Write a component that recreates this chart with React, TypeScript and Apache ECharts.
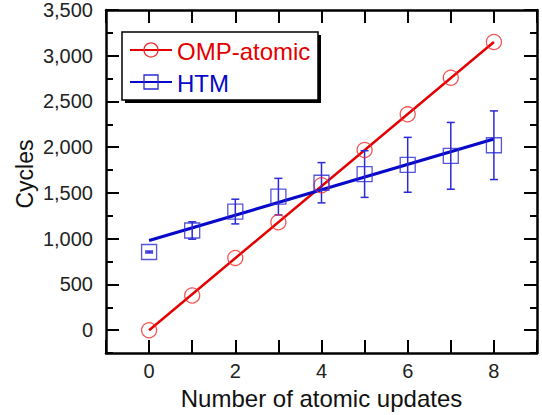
import React, { useEffect, useRef } from "react";
import * as echarts from "echarts";

const xValues = [0, 1, 2, 3, 4, 5, 6, 7, 8];
const ompAtomic = [0, 380, 790, 1180, 1585, 1970, 2360, 2760, 3150];
const htm = [855, 1090, 1297, 1460, 1612, 1707, 1808, 1906, 2022];
const htmErr = [10, 95, 135, 200, 220, 255, 300, 365, 375];
const fitX = [0, 8];
const ompFit = [0, 3150];
const htmFit = [980, 2090];
const yMajorTicks = [0, 500, 1000, 1500, 2000, 2500, 3000, 3500];
const xLabelTicks = [0, 2, 4, 6, 8];

const RED_LINE = "#e40000";
const RED_MARK = "#ee2a2a";
const BLUE_LINE = "#0808c8";
const BLUE_MARK = "#2a2ad6";
const FONT = '"Liberation Sans", Arial, Helvetica, sans-serif';

export default function App() {
  const ref = useRef<HTMLDivElement>(null);

  useEffect(() => {
    if (!ref.current) return;
    const chart = echarts.init(ref.current, null, { renderer: "svg" });

    const axisLine = { show: true, onZero: false, lineStyle: { color: "#000", width: 2.5 } };
    const noLine = { show: false, onZero: false };
    const majorTick = { show: true, inside: true, length: 13, lineStyle: { color: "#000", width: 2 } };
    const minorTickStyle = { show: true, inside: true, length: 7, lineStyle: { color: "#000", width: 2 } };

    const yBase = { type: "value", min: -250, max: 3500, splitLine: { show: false } } as any;

    chart.setOption({
      animation: false,
      backgroundColor: "#fff",
      grid: { left: 106, top: 10, right: 5, bottom: 60, containLabel: false },
      xAxis: [
        {
          type: "value",
          min: -1,
          max: 9,
          interval: 1,
          position: "bottom",
          axisLine,
          axisTick: majorTick,
          splitLine: { show: false },
          axisLabel: {
            fontSize: 20,
            fontFamily: FONT,
            color: "#222",
            margin: 8,
            formatter: (v: number) => (xLabelTicks.indexOf(v) >= 0 ? String(v) : ""),
          },
          name: "Number of atomic updates",
          nameLocation: "middle",
          nameGap: 32,
          nameTextStyle: { fontSize: 24, fontFamily: FONT, color: "#111" },
        },
        {
          type: "value",
          min: -1,
          max: 9,
          interval: 1,
          position: "top",
          axisLine,
          axisTick: majorTick,
          splitLine: { show: false },
          axisLabel: { show: false },
        },
      ],
      yAxis: [
        {
          ...yBase,
          interval: 250,
          position: "left",
          axisLine,
          axisTick: minorTickStyle,
          axisLabel: {
            fontSize: 20,
            fontFamily: FONT,
            color: "#222",
            margin: 13,
            formatter: (v: number) =>
              yMajorTicks.indexOf(v) >= 0 ? v.toLocaleString("en-US") : "",
          },
        },
        {
          ...yBase,
          position: "left",
          axisLine: noLine,
          axisTick: { ...majorTick, customValues: yMajorTicks },
          axisLabel: { show: false },
        },
        {
          ...yBase,
          interval: 250,
          position: "right",
          axisLine,
          axisTick: minorTickStyle,
          axisLabel: { show: false },
        },
        {
          ...yBase,
          position: "right",
          axisLine: noLine,
          axisTick: { ...majorTick, customValues: yMajorTicks },
          axisLabel: { show: false },
        },
      ],
      graphic: [
        {
          type: "text",
          x: 25,
          y: 174,
          rotation: Math.PI / 2,
          style: {
            text: "Cycles",
            fontSize: 23,
            fontFamily: FONT,
            fill: "#111",
            align: "center",
            verticalAlign: "middle",
          },
        },
        {
          type: "group",
          z: 100,
          children: [
            { type: "rect", shape: { x: 125, y: 35, width: 196, height: 68 }, style: { fill: "#000" } },
            {
              type: "rect",
              shape: { x: 122, y: 32, width: 196, height: 68 },
              style: { fill: "#fff", stroke: "#000", lineWidth: 1.5 },
            },
            { type: "line", shape: { x1: 130, y1: 50, x2: 172, y2: 50 }, style: { stroke: RED_LINE, lineWidth: 2 } },
            { type: "circle", shape: { cx: 151, cy: 50, r: 7 }, style: { stroke: RED_MARK, fill: "none", lineWidth: 1.3 } },
            {
              type: "text",
              x: 177,
              y: 51,
              style: { text: "OMP-atomic", fontSize: 24, fontFamily: FONT, fill: RED_LINE, verticalAlign: "middle" },
            },
            { type: "line", shape: { x1: 130, y1: 82, x2: 172, y2: 82 }, style: { stroke: BLUE_LINE, lineWidth: 2 } },
            { type: "rect", shape: { x: 144, y: 75, width: 14, height: 14 }, style: { stroke: BLUE_MARK, fill: "none", lineWidth: 1.3 } },
            {
              type: "text",
              x: 177,
              y: 83,
              style: { text: "HTM", fontSize: 24, fontFamily: FONT, fill: BLUE_LINE, verticalAlign: "middle" },
            },
          ],
        },
      ],
      series: [
        {
          name: "OMP-atomic fit",
          type: "line",
          data: fitX.map((x, i) => [x, ompFit[i]]),
          symbol: "none",
          lineStyle: { color: RED_LINE, width: 2.5 },
          z: 2,
        },
        {
          name: "HTM fit",
          type: "line",
          data: fitX.map((x, i) => [x, htmFit[i]]),
          symbol: "none",
          lineStyle: { color: BLUE_LINE, width: 3 },
          z: 2,
        },
        {
          name: "HTM error",
          type: "custom",
          data: xValues.map((x, i) => [x, htm[i] - htmErr[i], htm[i] + htmErr[i]]),
          renderItem: (params: any, api: any) => {
            const x = api.value(0);
            const lo = api.coord([x, api.value(1)]);
            const hi = api.coord([x, api.value(2)]);
            const cap = 4;
            const style = { stroke: BLUE_MARK, lineWidth: 1.5 };
            return {
              type: "group",
              children: [
                { type: "line", shape: { x1: lo[0], y1: lo[1], x2: hi[0], y2: hi[1] }, style },
                { type: "line", shape: { x1: lo[0] - cap, y1: lo[1], x2: lo[0] + cap, y2: lo[1] }, style },
                { type: "line", shape: { x1: hi[0] - cap, y1: hi[1], x2: hi[0] + cap, y2: hi[1] }, style },
              ],
            };
          },
          z: 3,
        },
        {
          name: "OMP-atomic",
          type: "scatter",
          data: xValues.map((x, i) => [x, ompAtomic[i]]),
          symbol: "circle",
          symbolSize: 15,
          itemStyle: { color: "transparent", borderColor: RED_MARK, borderWidth: 1.3 },
          z: 4,
        },
        {
          name: "HTM",
          type: "scatter",
          data: xValues.map((x, i) => [x, htm[i]]),
          symbol: "rect",
          symbolSize: 15,
          itemStyle: { color: "transparent", borderColor: BLUE_MARK, borderWidth: 1.3 },
          z: 4,
        },
      ],
    });

    return () => chart.dispose();
  }, []);

  return (
    <div
      ref={ref}
      style={{ position: "fixed", left: 0, top: 0, width: 542, height: 415, background: "#fff" }}
    />
  );
}
